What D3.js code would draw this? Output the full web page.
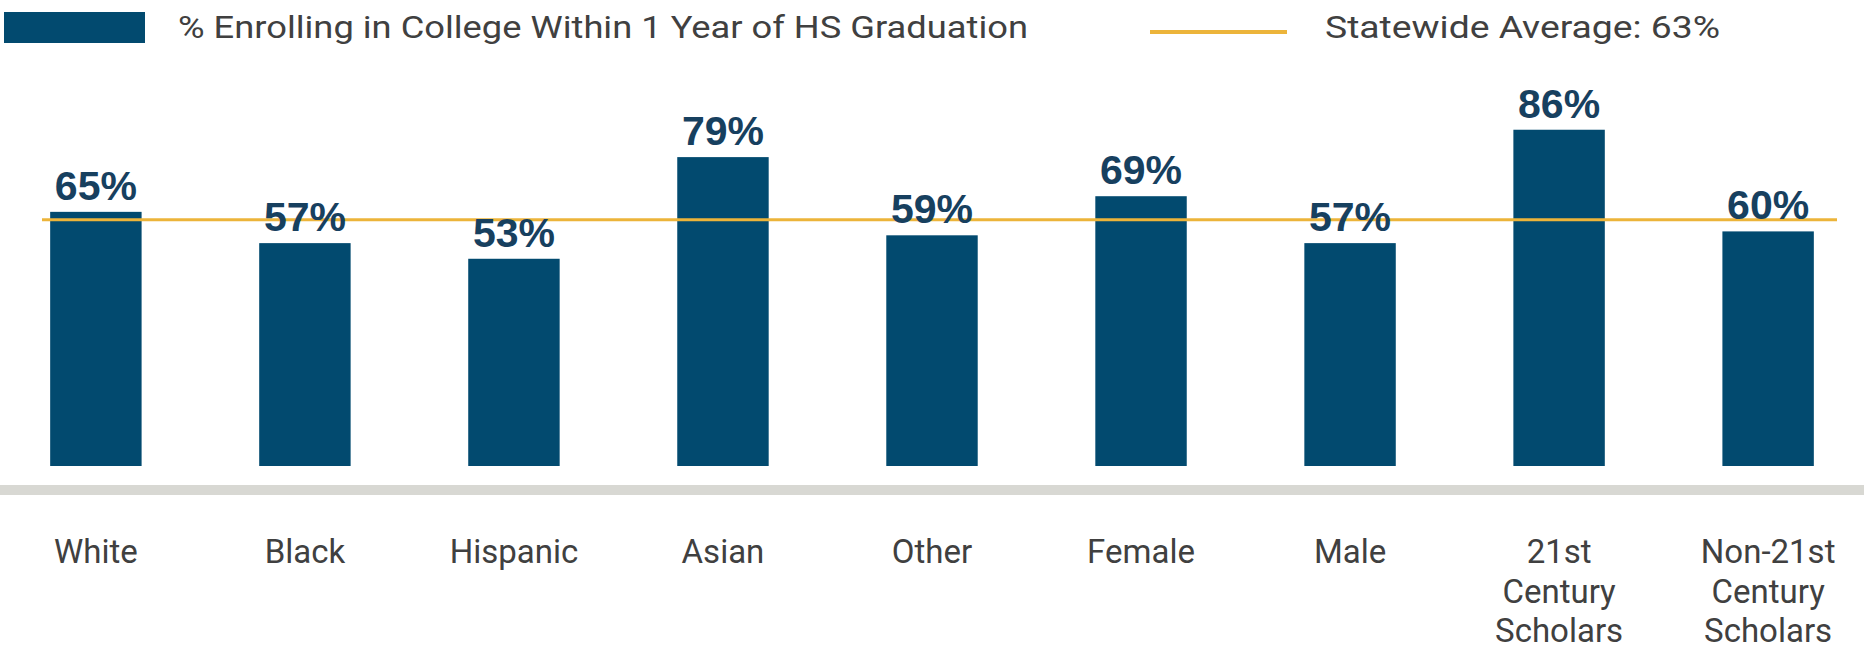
<!DOCTYPE html>
<html>
<head>
<meta charset="utf-8">
<script src="https://cdn.jsdelivr.net/npm/d3@7"></script>
<style>
  body { margin: 0; background: #fff; }
  svg { display: block; }
</style>
</head>
<body>
<svg></svg>
<script>
// chart data
var categories = ["White", "Black", "Hispanic", "Asian", "Other", "Female", "Male", "21st Century Scholars", "Non-21st Century Scholars"];
var categoryLines = [["White"], ["Black"], ["Hispanic"], ["Asian"], ["Other"], ["Female"], ["Male"], ["21st", "Century", "Scholars"], ["Non-21st", "Century", "Scholars"]];
var enrollPct = [65, 57, 53, 79, 59, 69, 57, 86, 60];
var statewideAvg = 63;
var seriesLabel = "% Enrolling in College Within 1 Year of HS Graduation";
var avgLabel = "Statewide Average: 63%";

var width = 1864;
var height = 649;
var barColor = "#024a6f";
var avgColor = "#ecb43a";

var svg = d3.select("svg")
  .attr("width", width)
  .attr("height", height);

var x = d3.scaleBand()
  .domain(categories)
  .range([0, width])
  .paddingInner(0.5626)
  .paddingOuter(0.24);

var y = d3.scaleLinear()
  .domain([0, 100])
  .range([466, 75]);

// grey floor band
svg.append("rect")
  .attr("x", 0)
  .attr("y", 485)
  .attr("width", width)
  .attr("height", 10)
  .attr("fill", "#d8d8d3");

// bars
svg.selectAll(".bar")
    .data(enrollPct)
  .enter().append("rect")
    .attr("class", "bar")
    .attr("x", function(d, i){ return x(categories[i]); })
    .attr("width", x.bandwidth())
    .attr("y", function(d){ return y(d); })
    .attr("height", function(d){ return y(0) - y(d); })
    .attr("fill", barColor);

// statewide average line
svg.append("line")
  .attr("x1", 42)
  .attr("x2", 1837)
  .attr("y1", y(statewideAvg))
  .attr("y2", y(statewideAvg))
  .attr("stroke", avgColor)
  .attr("stroke-width", 3);

// value labels
svg.selectAll(".val")
    .data(enrollPct)
  .enter().append("text")
    .attr("class", "val")
    .attr("x", function(d, i){ return x(categories[i]) + x.bandwidth() / 2; })
    .attr("y", function(d){ return y(d) - 12; })
    .attr("text-anchor", "middle")
    .attr("font-family", "Liberation Sans, Arial, sans-serif")
    .attr("font-weight", "bold")
    .attr("font-size", 41)
    .attr("fill", "#17405f")
    .text(function(d){ return d + "%"; });

// category labels (wrapped)
var catText = svg.selectAll(".cat")
    .data(categories)
  .enter().append("text")
    .attr("class", "cat")
    .attr("text-anchor", "middle")
    .attr("font-family", "Roboto, sans-serif")
    .attr("font-size", 33)
    .attr("fill", "#404040");

catText.each(function(d, i){
  var t = d3.select(this);
  var cx = x(d) + x.bandwidth() / 2;
  categoryLines[i].forEach(function(line, j){
    t.append("tspan")
      .attr("x", cx)
      .attr("y", 563 + j * 39.5)
      .text(line);
  });
});

// legend
svg.append("rect")
  .attr("x", 4)
  .attr("y", 12)
  .attr("width", 141)
  .attr("height", 31)
  .attr("fill", barColor);

svg.append("text")
  .attr("x", 178)
  .attr("y", 38)
  .attr("font-family", "Roboto, sans-serif")
  .attr("font-size", 32)
  .attr("fill", "#404040")
  .attr("textLength", 850)
  .attr("lengthAdjust", "spacingAndGlyphs")
  .text(seriesLabel);

svg.append("line")
  .attr("x1", 1150)
  .attr("x2", 1287)
  .attr("y1", 32)
  .attr("y2", 32)
  .attr("stroke", avgColor)
  .attr("stroke-width", 4);

svg.append("text")
  .attr("x", 1325)
  .attr("y", 38)
  .attr("font-family", "Roboto, sans-serif")
  .attr("font-size", 32)
  .attr("fill", "#404040")
  .attr("textLength", 395)
  .attr("lengthAdjust", "spacingAndGlyphs")
  .text(avgLabel);
</script>
</body>
</html>
